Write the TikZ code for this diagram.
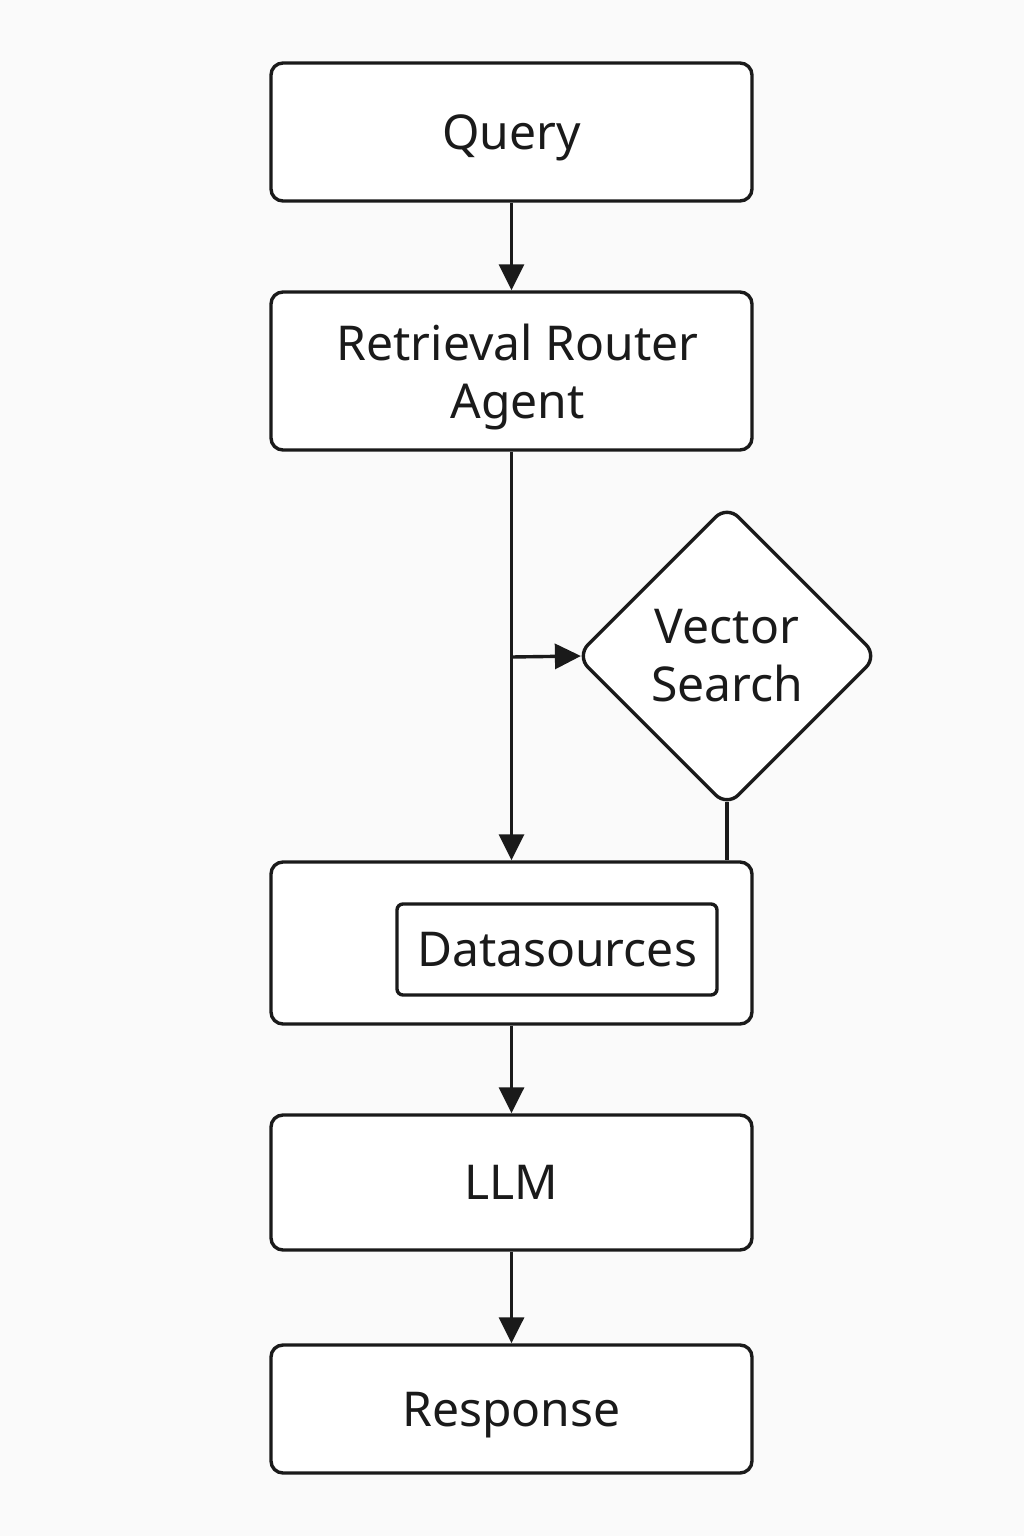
\documentclass[tikz,border=0pt]{standalone}
\usepackage{fontspec}
\setmainfont{Noto Sans}
\usetikzlibrary{arrows.meta,shapes.geometric}
\definecolor{bg}{HTML}{FAFAFA}
\definecolor{ink}{HTML}{1A1A1A}
\begin{document}
\begin{tikzpicture}[x=0.5pt,y=-0.5pt,
  txt/.style={font=\fontsize{24}{29}\selectfont,text=ink},
  capc/.style={text height=17pt,text depth=0pt},
  box/.style={draw=ink,fill=white,line width=1.7pt,rounded corners=6pt,minimum width=240.5pt,inner sep=0pt,txt,align=center},
  innerbox/.style={draw=ink,fill=white,line width=1.7pt,rounded corners=3pt,minimum width=160pt,minimum height=45.5pt,inner sep=0pt,txt,capc},
  dia/.style={diamond,draw=ink,fill=white,line width=1.7pt,rounded corners=8pt,minimum width=151pt,minimum height=151pt,inner sep=0pt,txt,align=center},
  conn/.style={draw=ink,line width=1.7pt},
  arr/.style={conn,-{Triangle[length=13pt,width=12.5pt]}}]
\fill[bg] (0,0) rectangle (1024,1536);
\useasboundingbox (0,0) rectangle (1024,1536);
\node[box,capc,minimum height=69pt] (query) at (511.5,132) {Query};
\node[box,minimum height=79pt] (ret) at (511.5,371) {};
\node[txt,align=center,inner sep=0pt] (retlbl) at ([xshift=3pt,yshift=-3pt]ret.center) {Retrieval Router\\Agent};
\node[dia] (vs) at (727,656) {Vector\\Search};
\node[box,minimum height=81pt] (ds) at (511.5,943) {};
\node[innerbox] (dsin) at (557,949.5) {Datasources};
\node[box,capc,minimum height=67.5pt] (llm) at (511.5,1182.5) {LLM};
\node[box,capc,minimum height=64pt] (resp) at (511.5,1409) {Response};
\coordinate (br) at (511.5,657);
\coordinate (vsw) at ([xshift=3.3pt]vs.west);
\coordinate (vss) at ([yshift=3.5pt]vs.south);
\draw[arr] (query.south) -- (ret.north);
\draw[arr] (ret.south) -- (ds.north);
\draw[arr] (br) -- (vsw);
\draw[conn] (vss) -- (vss |- ds.north);
\draw[arr] (ds.south) -- (llm.north);
\draw[arr] (llm.south) -- (resp.north);
\end{tikzpicture}
\end{document}
